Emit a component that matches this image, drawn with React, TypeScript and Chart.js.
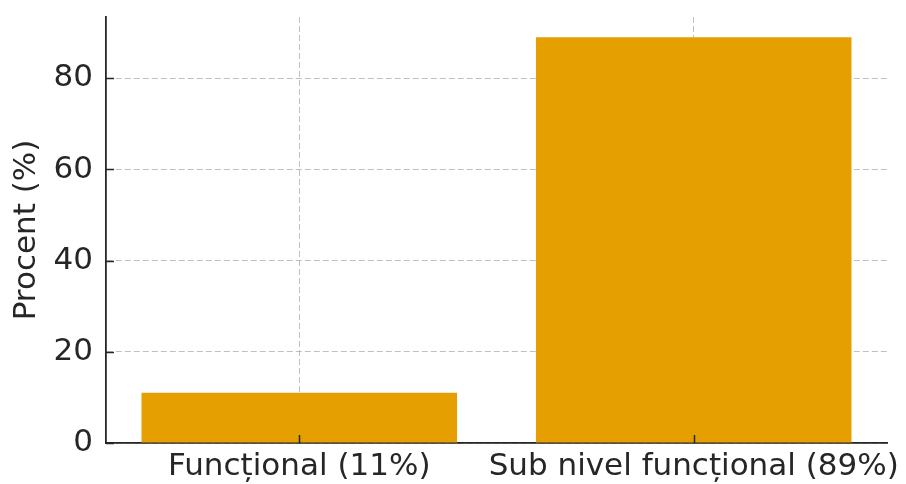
import React, { useEffect, useRef } from "react";
import { Chart, registerables } from "chart.js";

Chart.register(...registerables);

const categories = ["Funcțional (11%)", "Sub nivel funcțional (89%)"];
const values = [11, 89];
const yTicks = [0, 20, 40, 60, 80];
const yAxisTitle = "Procent (%)";

const FONT = "'DejaVu Sans', sans-serif";
const TEXT = "#262626";
const GRID = "rgba(176,176,176,0.8)";

const inwardTicks = {
  id: "inwardTicks",
  afterDatasetsDraw(chart: any) {
    const { ctx, scales } = chart;
    const x = scales.x;
    const y = scales.y;
    ctx.save();
    ctx.strokeStyle = TEXT;
    ctx.lineWidth = 1.5;
    ctx.beginPath();
    yTicks.forEach((v) => {
      const py = Math.round(y.getPixelForValue(v)) + 0.5;
      ctx.moveTo(x.left, py);
      ctx.lineTo(x.left + 8, py);
    });
    categories.forEach((_, i) => {
      const px = Math.round(x.getPixelForValue(i)) + 0.5;
      ctx.moveTo(px, y.bottom);
      ctx.lineTo(px, y.bottom - 8);
    });
    ctx.stroke();
    ctx.restore();
  },
};

export default function App() {
  const ref = useRef<HTMLCanvasElement | null>(null);

  useEffect(() => {
    document.body.style.margin = "0";
    const canvas = ref.current;
    if (!canvas) return;
    const chart = new Chart(canvas, {
      type: "bar",
      data: {
        datasets: [
          {
            data: values.map((v, i) => ({ x: i, y: v })),
            backgroundColor: "#E69F00",
            borderWidth: 0,
            barPercentage: 0.8,
            categoryPercentage: 1,
          },
        ],
      },
      options: {
        animation: false,
        responsive: false,
        maintainAspectRatio: false,
        layout: { padding: { top: 17, right: 19, left: 0, bottom: 0 } },
        plugins: {
          legend: { display: false },
          tooltip: { enabled: false },
          title: { display: false },
        },
        scales: {
          x: {
            type: "linear",
            min: -0.49,
            max: 1.49,
            offset: false,
            grid: {
              offset: false,
              drawTicks: false,
              color: GRID,
              lineWidth: 1,
            },
            border: { display: true, color: TEXT, width: 1.8, dash: [6, 3] },
            ticks: {
              color: TEXT,
              font: { family: FONT, size: 31 },
              padding: 5,
              maxRotation: 0,
              autoSkip: false,
              callback: (v: any) => categories[v as number] ?? "",
            },
            afterBuildTicks(scale: any) {
              scale.ticks = categories.map((_, i) => ({ value: i }));
            },
            afterFit(scale: any) {
              scale.height = 41;
              scale.paddingLeft = 0;
              scale.paddingRight = 0;
            },
          },
          y: {
            min: 0,
            max: 93.45,
            grid: {
              drawTicks: false,
              color: GRID,
              lineWidth: 1,
            },
            border: { display: true, color: TEXT, width: 1.8, dash: [6, 3] },
            ticks: {
              color: TEXT,
              font: { family: FONT, size: 31 },
              padding: 13,
            },
            afterBuildTicks(scale: any) {
              scale.ticks = yTicks.map((v) => ({ value: v }));
            },
            title: {
              display: true,
              text: yAxisTitle,
              color: TEXT,
              font: { family: FONT, size: 31 },
              padding: { top: 8, bottom: 0 },
            },
            afterFit(scale: any) {
              scale.width = 106;
              scale.paddingTop = 0;
              scale.paddingBottom = 0;
            },
          },
        },
      },
      plugins: [inwardTicks],
    });
    return () => chart.destroy();
  }, []);

  return <canvas ref={ref} width={906} height={484} style={{ display: "block" }} />;
}
